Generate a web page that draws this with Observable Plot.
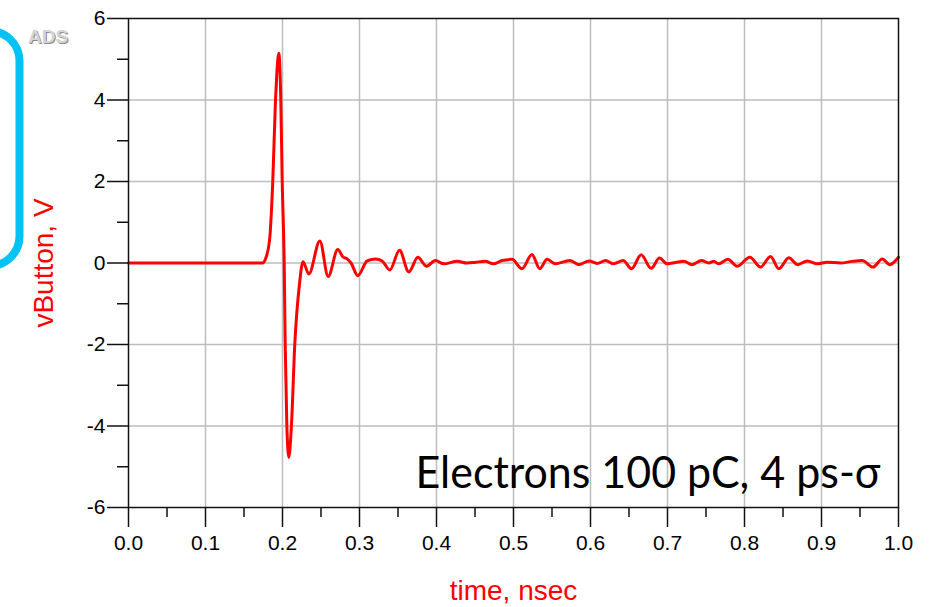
<!DOCTYPE html>
<html>
<head>
<meta charset="utf-8">
<script src="https://cdn.jsdelivr.net/npm/d3@7"></script>
<script src="https://cdn.jsdelivr.net/npm/@observablehq/plot@0.6"></script>
<style>
  html, body { margin: 0; padding: 0; background: #fff; }
  #chart { width: 936px; height: 607px; overflow: hidden; }
</style>
</head>
<body>
<div id="chart"></div>
<script>
// time (nsec) and vButton (V)
const times = [0, 0.17, 0.174, 0.1779, 0.1831, 0.1874, 0.1909, 0.1926, 0.1952, 0.1978, 0.1996, 0.2022, 0.2035, 0.2056, 0.2082, 0.2117, 0.216, 0.2221, 0.2266, 0.2342, 0.2485, 0.2593, 0.2718, 0.2785, 0.284, 0.289, 0.2978, 0.31, 0.3208, 0.3294, 0.3394, 0.352, 0.364, 0.3758, 0.387, 0.3987, 0.4095, 0.4268, 0.44, 0.451, 0.4636, 0.4736, 0.4853, 0.498, 0.511, 0.524, 0.534, 0.5437, 0.5545, 0.573, 0.585, 0.598, 0.6087, 0.6195, 0.63, 0.6424, 0.6532, 0.6658, 0.6788, 0.6896, 0.6996, 0.7104, 0.7212, 0.732, 0.7442, 0.7537, 0.76, 0.7666, 0.7783, 0.7905, 0.807, 0.8208, 0.8338, 0.8446, 0.8576, 0.8692, 0.8814, 0.8944, 0.9074, 0.9247, 0.9398, 0.9528, 0.967, 0.9788, 0.9887, 1.0];
const volts = [0, 0, 0, 0.1, 0.55, 2.02, 3.99, 4.64, 5.15, 3.99, 2.02, 0, -1.98, -3.95, -4.77, -3.95, -1.98, -0.51, 0.03, -0.27, 0.54, -0.33, 0.33, 0.15, 0.1, 0.0, -0.31, 0.05, 0.10, 0.05, -0.17, 0.31, -0.22, 0.14, -0.08, 0.06, -0.02, 0.04, 0.0, 0.02, 0.04, -0.02, 0.06, 0.09, -0.14, 0.21, -0.14, 0.09, -0.02, 0.06, -0.04, 0.05, -0.01, 0.06, -0.02, 0.06, -0.14, 0.2, -0.13, 0.12, -0.02, 0.01, 0.04, -0.04, 0.06, 0.0, 0.04, -0.02, 0.09, -0.08, 0.14, -0.10, 0.16, -0.14, 0.13, -0.04, 0.05, -0.02, 0.02, 0.0, 0.04, 0.06, -0.10, 0.10, -0.04, 0.14];

const xMajor = [0, 0.1, 0.2, 0.3, 0.4, 0.5, 0.6, 0.7, 0.8, 0.9, 1.0];
const xMinor = [0.05, 0.15, 0.25, 0.35, 0.45, 0.55, 0.65, 0.75, 0.85, 0.95];
const xGrid = [0.1, 0.2, 0.3, 0.4, 0.5, 0.6, 0.7, 0.8, 0.9];
const yMajor = [-6, -4, -2, 0, 2, 4, 6];
const yMinor = [-5, -3, -1, 1, 3, 5];
const yGrid = [-4, -2, 0, 2, 4];
const xLabel = "time, nsec";
const yLabel = "vButton, V";
const annotation = "Electrons 100 pC, 4 ps-σ";
const badge = "ADS";

const data = times.map((t, i) => ({t, v: volts[i]}));

const fmtY = d => (d < 0 ? "-" + Math.abs(d) : String(d));

const chart = Plot.plot({
  width: 936,
  height: 607,
  marginLeft: 128,
  marginRight: 38,
  marginTop: 18,
  marginBottom: 100,
  style: {fontFamily: "'Liberation Sans', Arial, sans-serif", fontSize: "21px", background: "#fff", color: "#000"},
  x: {domain: [0, 1]},
  y: {domain: [-6, 6]},
  marks: [
    Plot.gridX(xGrid, {stroke: "#bdbdbd", strokeOpacity: 1, strokeWidth: 1.5}),
    Plot.gridY(yGrid, {stroke: "#bdbdbd", strokeOpacity: 1, strokeWidth: 1.5}),
    Plot.line(data, {x: "t", y: "v", stroke: "#ff0000", strokeWidth: 3, curve: "monotone-x"}),
    Plot.axisX(xMajor, {tickSize: 20, tickPadding: 8, tickFormat: d3.format(".1f"), label: null, stroke: "#111", strokeWidth: 1.5, fontSize: 21}),
    Plot.axisX(xMinor, {tickSize: 10, tickFormat: () => "", label: null, stroke: "#111", strokeWidth: 1.5}),
    Plot.axisY(yMajor, {tickSize: 21, tickPadding: 2, tickFormat: fmtY, label: null, stroke: "#111", strokeWidth: 1.5, fontSize: 21}),
    Plot.axisY(yMinor, {tickSize: 11, tickFormat: () => "", label: null, stroke: "#111", strokeWidth: 1.5}),
    Plot.frame({stroke: "#111", strokeWidth: 1.5}),
    Plot.text([xLabel], {frameAnchor: "bottom", dy: 84, fill: "#ff0000", fontSize: 28, lineAnchor: "middle"}),
    Plot.text([yLabel], {frameAnchor: "left", dx: -84, rotate: -90, fill: "#ff0000", fontSize: 28, lineAnchor: "middle", textAnchor: "middle"}),
    Plot.text([annotation], {frameAnchor: "bottom-right", dx: -18, dy: -20, textAnchor: "end", lineAnchor: "bottom", fontSize: 44, fontFamily: "Lato, 'Open Sans', sans-serif", fill: "#000", className: "annot"})
  ]
});

document.getElementById("chart").appendChild(chart);

// decorations: blue bracket and "ADS" badge
const svg = d3.select(chart);
svg.append("path")
  .attr("d", "M -40 31 H -10.5 A 30 30 0 0 1 19.5 61 V 236 A 30 30 0 0 1 -10.5 266 H -40")
  .attr("fill", "none")
  .attr("stroke", "#00c2f5")
  .attr("stroke-width", 8);
const badgeG = svg.append("g")
  .attr("text-anchor", "start")
  .attr("font-family", "'Liberation Sans', Arial, sans-serif")
  .attr("font-weight", "bold")
  .attr("font-size", 19);
badgeG.append("text").attr("x", 29).attr("y", 44).text(badge).attr("fill", "#8a8a8a");
badgeG.append("text").attr("x", 28).attr("y", 43).text(badge).attr("fill", "#d4d4d4");

// match annotation width
svg.selectAll(".annot text").attr("textLength", 465).attr("lengthAdjust", "spacingAndGlyphs");
</script>
</body>
</html>
